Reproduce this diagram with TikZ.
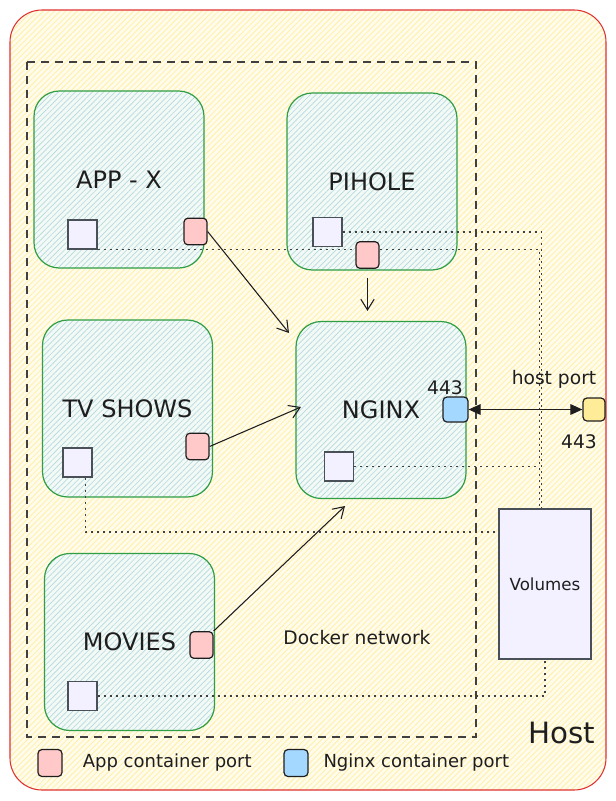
\documentclass[tikz,border=0pt]{standalone}
\usepackage{fontspec}
\setmainfont{DejaVu Sans}
\usetikzlibrary{arrows.meta, patterns.meta, positioning}
\definecolor{ink}{HTML}{1E1E1E}
\definecolor{hostred}{HTML}{E03131}
\definecolor{hostbg}{HTML}{FFFCEC}
\definecolor{hostline}{HTML}{FFEFA8}
\definecolor{boxgreen}{HTML}{2F9E44}
\definecolor{boxbg}{HTML}{F3F9F5}
\definecolor{boxline}{HTML}{B3D9E0}
\definecolor{mountfill}{HTML}{F3F0FF}
\definecolor{mountgrey}{HTML}{495057}
\definecolor{portpink}{HTML}{FFC9C9}
\definecolor{portblue}{HTML}{A5D8FF}
\definecolor{portyellow}{HTML}{FFEC99}
\pgfdeclarelayer{back}
\pgfdeclarelayer{links}
\pgfsetlayers{back,links,main}

\begin{document}
\begin{tikzpicture}[x=0.75pt, y=-0.75pt,
	container/.style={draw=boxgreen, line width=0.9pt, rounded corners=19pt,
		minimum width=127.5pt, minimum height=132.75pt, text=ink,
		preaction={fill=boxbg}, pattern={Lines[angle=45,distance=3pt,line width=0.5pt]},
		pattern color=boxline, font=\fontsize{18}{22}\selectfont},
	mount/.style={draw=mountgrey, line width=1pt, fill=mountfill, minimum size=21.75pt, inner sep=0pt},
	appport/.style={draw=ink, line width=0.9pt, fill=portpink, rounded corners=3pt,
		minimum width=17.25pt, minimum height=20pt, inner sep=0pt},
	ngxport/.style={appport, fill=portblue, minimum width=18.75pt, minimum height=18.75pt},
	lbl/.style={text=ink, font=\fontsize{14}{16}\selectfont, inner sep=1pt},
	keylbl/.style={lbl, font=\fontsize{13.5}{16}\selectfont},
	dotline/.style={draw=ink!85, line width=0.8pt, dash pattern=on 1.5pt off 3pt},
	arr/.style={draw=ink, line width=0.8pt, -{Straight Barb[length=8pt,width=10pt]}}]
	\useasboundingbox (0,0) rectangle (616,801);

	\begin{pgfonlayer}{back}
		% Host and docker network
		\draw[draw=hostred, line width=0.8pt, rounded corners=24pt, preaction={fill=hostbg},
			pattern={Lines[angle=45,distance=3pt,line width=0.6pt]}, pattern color=hostline]
			(10,10) rectangle (606,790);
		\draw[draw=ink!85, line width=1.1pt, dash pattern=on 6pt off 4.5pt] (27,62) rectangle (476,737);
		% Containers
		\node[container] (appx) at (119,179.5) {APP - X};
		\node[container] (pihole) at (372,181.5) {PIHOLE};
		\node[container] (tvshows) at (127.5,408.5) {TV SHOWS};
		\node[container] (nginx) at (381,410) {NGINX};
		\node[container] (movies) at (129.5,642) {MOVIES};
	\end{pgfonlayer}

	% Mounts and volumes
	\node[mount] (appsq) at (82.5,234.5) {};
	\node[mount] (pisq) at (327.5,232) {};
	\node[mount] (tvsq) at (77.5,462.5) {};
	\node[mount] (ngsq) at (339,466.5) {};
	\node[mount] (mvsq) at (82.5,696) {};
	\node[draw=mountgrey, line width=1pt, fill=mountfill, minimum width=69pt, minimum height=112.5pt,
		text=ink, font=\fontsize{12.5}{14}\selectfont] (vol) at (545,584) {Volumes};

	% Ports
	\node[appport] (appport) at (195.5,231.5) {};
	\node[appport] (piport) at (367.5,255) {};
	\node[appport] (tvport) at (197.5,446.5) {};
	\node[appport] (mvport) at (201.5,645) {};
	\node[ngxport] (ngport) at (455.5,409.5) {};
	\node[appport, fill=portyellow, minimum width=16.5pt, minimum height=17.25pt] (hostport) at (594,409.5) {};
	\node[lbl] (ngnum) at (445,388) {443};
	\node[lbl] (hostlbl) at (554,379) {host port};
	\node[lbl] (hostnum) at (579,442) {443};

	\begin{pgfonlayer}{links}
		\draw[dotline] (appsq.south east) -| ([xshift=-4pt]vol.north);
		\draw[dotline] (pisq.east) -| ([xshift=-2.5pt]vol.north);
		\draw[dotline] (ngsq.east) -- ([xshift=-5.5pt]vol.north |- ngsq.east);
		\draw[dotline] ([xshift=6pt]tvsq.south) |- ([yshift=39pt]vol.west);
		\draw[dotline] (mvsq.east) -| (vol.south);
	\end{pgfonlayer}

	% Traffic to nginx
	\coordinate (apptip) at (289,333);
	\coordinate (tvtip) at (301,407);
	\coordinate (mvtip) at (345,506);
	\draw[arr] (appport.east) -- (apptip);
	\draw[arr, shorten <=6.5pt, shorten >=7.5pt] (piport.south) -- (piport.south |- nginx.north);
	\draw[arr] (tvport.east) -- (tvtip);
	\draw[arr] (mvport.north east) -- (mvtip);
	\draw[draw=ink, line width=0.8pt, {Triangle[length=9pt,width=8pt]}-{Triangle[length=9pt,width=8pt]}]
		(ngport.east) -- (hostport.west);

	\node[lbl] (netlbl) at (357,638) {Docker network};
	\node[text=ink, font=\fontsize{22}{24}\selectfont] (hostname) at (562,733) {Host};

	% Legend
	\node[appport, minimum width=18pt, minimum height=20.25pt] (keyapp) at (50,763) {};
	\node[keylbl, right=14pt of keyapp] (keyapptxt) {App container port};
	\node[ngxport, minimum width=18pt, minimum height=20.25pt] (keyngx) at (296,763) {};
	\node[keylbl, right=10pt of keyngx] (keyngxtxt) {Nginx container port};
\end{tikzpicture}
\end{document}
